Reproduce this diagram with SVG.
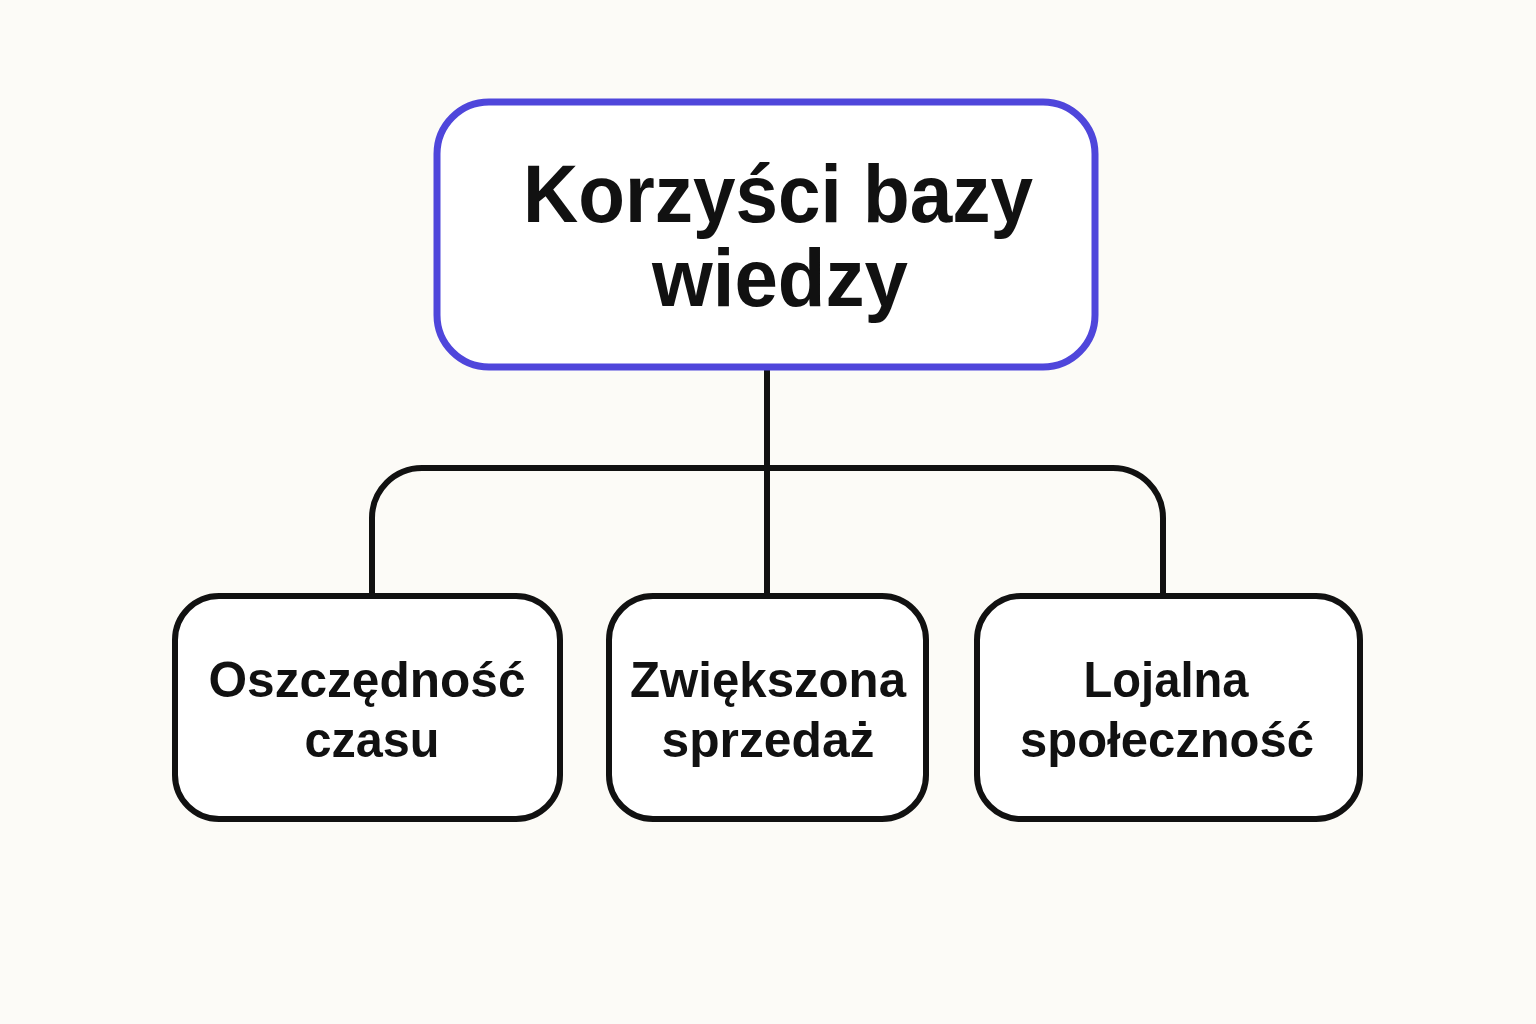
<svg xmlns="http://www.w3.org/2000/svg" width="1536" height="1024" viewBox="0 0 1536 1024">
  <style>
    .bg { fill: #FCFBF7; }
    .root { fill: #FFFFFF; stroke: #4F46DB; stroke-width: 7; }
    .leaf { fill: #FFFFFF; stroke: #111111; stroke-width: 6; }
    .conn { fill: none; stroke: #111111; stroke-width: 6; }
    .title { font-family: "Liberation Sans", Arial, sans-serif; font-weight: 700; font-size: 82px; fill: #111111; text-anchor: middle; }
    .label { font-family: "Liberation Sans", Arial, sans-serif; font-weight: 700; font-size: 50px; fill: #111111; text-anchor: middle; }
  </style>
  <rect class="bg" x="0" y="0" width="1536" height="1024"/>
  <g id="connectors">
    <path class="conn" d="M767 368 V595"/>
    <path class="conn" d="M372 595 V518 A50 50 0 0 1 422 468 H1113 A50 50 0 0 1 1163 518 V595"/>
  </g>
  <g id="root">
    <rect class="root" x="437" y="102" width="658" height="265" rx="52" ry="52"/>
    <text class="title" x="778" y="222" textLength="510" lengthAdjust="spacingAndGlyphs">Korzyści bazy</text>
    <text class="title" x="780" y="306" textLength="256" lengthAdjust="spacingAndGlyphs">wiedzy</text>
  </g>
  <g id="node-oszczednosc">
    <rect class="leaf" x="175" y="596" width="385" height="223" rx="44" ry="44"/>
    <text class="label" x="367" y="697" textLength="317" lengthAdjust="spacingAndGlyphs">Oszczędność</text>
    <text class="label" x="372" y="757" textLength="135" lengthAdjust="spacingAndGlyphs">czasu</text>
  </g>
  <g id="node-sprzedaz">
    <rect class="leaf" x="609" y="596" width="317" height="223" rx="44" ry="44"/>
    <text class="label" x="768" y="697" textLength="276" lengthAdjust="spacingAndGlyphs">Zwiększona</text>
    <text class="label" x="768" y="757" textLength="213" lengthAdjust="spacingAndGlyphs">sprzedaż</text>
  </g>
  <g id="node-spolecznosc">
    <rect class="leaf" x="977" y="596" width="383" height="223" rx="44" ry="44"/>
    <text class="label" x="1166" y="697" textLength="165" lengthAdjust="spacingAndGlyphs">Lojalna</text>
    <text class="label" x="1167" y="757" textLength="294" lengthAdjust="spacingAndGlyphs">społeczność</text>
  </g>
</svg>
